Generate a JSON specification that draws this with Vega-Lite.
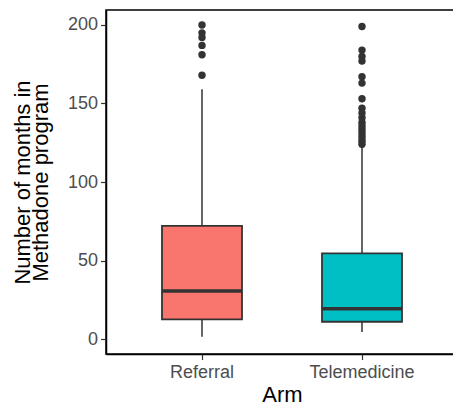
{
  "$schema": "https://vega.github.io/schema/vega-lite/v6.json",
  "autosize": "none",
  "width": 352,
  "height": 344,
  "padding": {"left": 106, "top": 10, "right": 0, "bottom": 52},
  "background": "white",
  "config": {
    "view": {"stroke": "black", "strokeWidth": 1.5},
    "font": "Liberation Sans"
  },
  "datasets": {
    "boxes": [
      {"Arm": "Referral", "lower": 1.5, "q1": 12.5, "median": 30.5, "q3": 72, "upper": 159},
      {"Arm": "Telemedicine", "lower": 4.5, "q1": 11, "median": 19.3, "q3": 54.6, "upper": 123}
    ],
    "outliers": [
      {"Arm": "Referral", "months": 200},
      {"Arm": "Referral", "months": 195},
      {"Arm": "Referral", "months": 192},
      {"Arm": "Referral", "months": 187},
      {"Arm": "Referral", "months": 181},
      {"Arm": "Referral", "months": 168},
      {"Arm": "Telemedicine", "months": 199},
      {"Arm": "Telemedicine", "months": 184},
      {"Arm": "Telemedicine", "months": 180},
      {"Arm": "Telemedicine", "months": 177},
      {"Arm": "Telemedicine", "months": 167},
      {"Arm": "Telemedicine", "months": 163},
      {"Arm": "Telemedicine", "months": 153},
      {"Arm": "Telemedicine", "months": 147},
      {"Arm": "Telemedicine", "months": 144},
      {"Arm": "Telemedicine", "months": 141},
      {"Arm": "Telemedicine", "months": 138},
      {"Arm": "Telemedicine", "months": 136},
      {"Arm": "Telemedicine", "months": 134},
      {"Arm": "Telemedicine", "months": 132},
      {"Arm": "Telemedicine", "months": 130},
      {"Arm": "Telemedicine", "months": 128},
      {"Arm": "Telemedicine", "months": 126},
      {"Arm": "Telemedicine", "months": 124}
    ]
  },
  "encoding": {
    "x": {
      "field": "Arm",
      "type": "nominal",
      "scale": {"domain": ["Referral", "Telemedicine"], "paddingInner": 0.5, "paddingOuter": 0.35},
      "axis": {
        "title": "Arm",
        "titleFontSize": 22,
        "titleFontWeight": "normal",
        "titleColor": "black",
        "titlePadding": 3,
        "labelAngle": 0,
        "labelFontSize": 18,
        "labelColor": "#4D4D4D",
        "labelPadding": 4,
        "tickColor": "#333333",
        "tickSize": 5.5,
        "tickWidth": 1.2,
        "domainColor": "black",
        "domainWidth": 1.5,
        "grid": false
      }
    }
  },
  "layer": [
    {
      "data": {"name": "boxes"},
      "mark": {"type": "rule", "color": "#333333", "strokeWidth": 1.5},
      "encoding": {
        "y": {
          "field": "lower",
          "type": "quantitative",
          "scale": {"domain": [-9.55, 209.55], "nice": false, "zero": false},
          "axis": {
            "values": [0, 50, 100, 150, 200],
            "title": ["Number of months in", "Methadone program"],
            "titleFontSize": 22,
            "titleFontWeight": "normal",
            "titleColor": "black",
            "titleLineHeight": 18,
            "titlePadding": 15,
            "labelFontSize": 18,
            "labelColor": "#4D4D4D",
            "labelPadding": 3,
            "tickColor": "#333333",
            "tickSize": 5.5,
            "tickWidth": 1.2,
            "domainColor": "black",
            "domainWidth": 1.5,
            "grid": false
          }
        },
        "y2": {"field": "upper"}
      }
    },
    {
      "data": {"name": "boxes"},
      "mark": {"type": "bar", "stroke": "#333333", "strokeWidth": 1.8},
      "encoding": {
        "y": {"field": "q1", "type": "quantitative"},
        "y2": {"field": "q3"},
        "fill": {
          "field": "Arm",
          "type": "nominal",
          "scale": {"domain": ["Referral", "Telemedicine"], "range": ["#F8766D", "#00BFC4"]},
          "legend": null
        }
      }
    },
    {
      "data": {"name": "boxes"},
      "mark": {"type": "tick", "color": "#333333", "size": 80, "thickness": 3.5, "opacity": 1},
      "encoding": {
        "y": {"field": "median", "type": "quantitative"}
      }
    },
    {
      "data": {"name": "outliers"},
      "mark": {"type": "point", "filled": true, "color": "#333333", "size": 55, "opacity": 1},
      "encoding": {
        "y": {"field": "months", "type": "quantitative"}
      }
    }
  ]
}
